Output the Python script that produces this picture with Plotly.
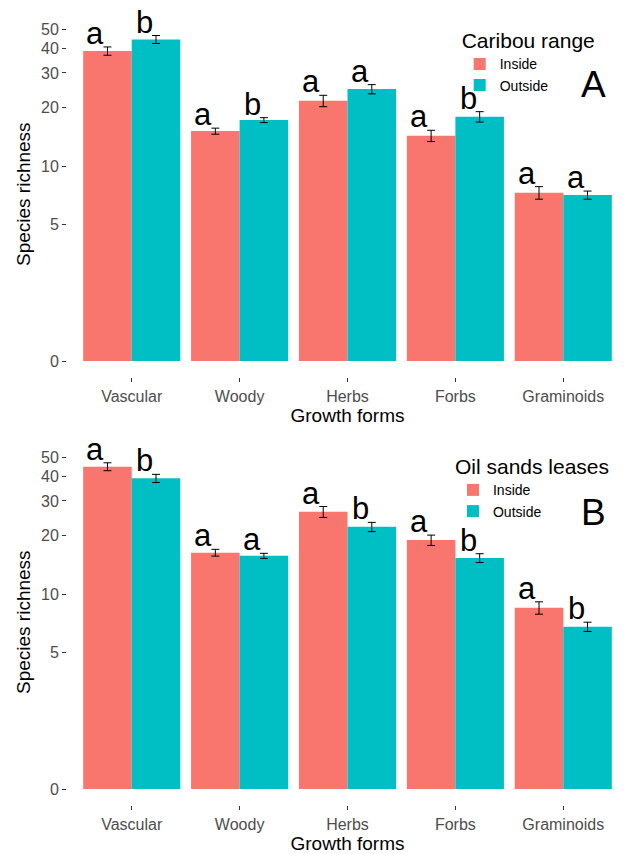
import numpy as np
import plotly.graph_objects as go

# ---------------- data ----------------
categories = ["Vascular", "Woody", "Herbs", "Forbs", "Graminoids"]

a_inside = [38.9, 15.1, 21.6, 14.3, 7.3]
a_outside = [44.6, 17.2, 24.8, 17.9, 7.1]
a_inside_se = [1.9, 0.54, 1.45, 0.95, 0.54]
a_outside_se = [2.1, 0.5, 1.35, 1.1, 0.34]
a_inside_letters = ["a", "a", "a", "a", "a"]
a_outside_letters = ["b", "b", "a", "b", "a"]

b_inside = [45.0, 16.3, 26.4, 18.9, 8.5]
b_outside = [39.2, 15.7, 22.1, 15.3, 6.8]
b_inside_se = [2.1, 0.65, 1.7, 1.15, 0.62]
b_outside_se = [1.9, 0.47, 1.2, 0.8, 0.37]
b_inside_letters = ["a", "a", "a", "a", "a"]
b_outside_letters = ["b", "a", "b", "b", "b"]

# log10 axis: the lowest break (value 1) is labelled "0" in the original figure
y_tick_values = [1, 5, 10, 20, 30, 40, 50]
y_tick_labels = ["0", "5", "10", "20", "30", "40", "50"]
legend_titles = ["Caribou range", "Oil sands leases"]
group_names = ["Inside", "Outside"]
panel_labels = ["A", "B"]


def tr(v):
    return np.log10(np.asarray(v, dtype=float))


RED = "#F8766D"
TEAL = "#00BFC4"
FONT = "Liberation Sans, Arial, sans-serif"
x_pos = np.arange(1, len(categories) + 1)

fig = go.Figure()

panels = [
    (a_inside, a_outside, a_inside_se, a_outside_se, a_inside_letters, a_outside_letters, "x", "y", "legend"),
    (b_inside, b_outside, b_inside_se, b_outside_se, b_inside_letters, b_outside_letters, "x2", "y2", "legend2"),
]

annotations = []
for p, (ins, outs, ins_se, outs_se, ins_l, outs_l, xa, ya, lg) in enumerate(panels):
    for g, (vals, se, letters, color, off) in enumerate([
        (ins, ins_se, ins_l, RED, -0.45),
        (outs, outs_se, outs_l, TEAL, 0.0),
    ]):
        vals = np.asarray(vals)
        se = np.asarray(se)
        t = tr(vals)
        t_hi = tr(vals + se)
        t_lo = tr(vals - se)
        fig.add_trace(go.Bar(
            x=x_pos, y=t, width=0.45, offset=off,
            marker=dict(color=color, line=dict(width=0)),
            name=group_names[g], legend=lg, xaxis=xa, yaxis=ya,
            error_y=dict(type="data", symmetric=False, array=t_hi - t,
                         arrayminus=t - t_lo, color="black", thickness=1, width=4),
            hoverinfo="skip",
        ))
        centers = x_pos + off + 0.225
        for c, th, lt in zip(centers, t_hi, letters):
            annotations.append(dict(
                x=c, y=th, xref=xa, yref=ya, text=lt, showarrow=False,
                xanchor="right", yanchor="bottom", xshift=-1, yshift=-6,
                font=dict(family=FONT, size=31, color="black"),
            ))
    annotations.append(dict(
        x=0.964, y=0.80, xref=f"{xa} domain", yref=f"{ya} domain",
        text=panel_labels[p], showarrow=False, xanchor="right", yanchor="middle",
        font=dict(family=FONT, size=37, color="black"),
    ))

yr = [-0.084, 1.795]
axis_common_y = dict(
    range=yr, tickmode="array", tickvals=tr(y_tick_values), ticktext=y_tick_labels,
    ticks="outside", ticklen=4, tickcolor="#333333", tickwidth=1,
    tickfont=dict(family=FONT, size=16, color="#4D4D4D"),
    showgrid=False, zeroline=False, showline=False, automargin=False,
    title=dict(text="Species richness", font=dict(family=FONT, size=19, color="black"), standoff=5),
)
axis_common_x = dict(
    range=[0.4, 5.6], tickmode="array", tickvals=x_pos, ticktext=categories,
    ticks="outside", ticklen=4, tickcolor="#333333", tickwidth=1,
    tickfont=dict(family=FONT, size=16, color="#4D4D4D"),
    showgrid=False, zeroline=False, showline=False, automargin=False,
    title=dict(text="Growth forms", font=dict(family=FONT, size=19, color="black"), standoff=2),
)

H = 854
fig.update_layout(
    width=628, height=H,
    margin=dict(l=67, r=0, t=0, b=0, autoexpand=False),
    paper_bgcolor="white", plot_bgcolor="white",
    barmode="overlay",
    xaxis=dict(axis_common_x, domain=[0, 1], anchor="y"),
    yaxis=dict(axis_common_y, domain=[1 - 377.4 / H, 1 - 11 / H], anchor="x"),
    xaxis2=dict(axis_common_x, domain=[0, 1], anchor="y2"),
    yaxis2=dict(axis_common_y, domain=[1 - 805.4 / H, 1 - 439 / H], anchor="x2"),
    legend=dict(
        title=dict(text=legend_titles[0], font=dict(family=FONT, size=21, color="black")),
        font=dict(family=FONT, size=14, color="black"),
        x=0.70, y=1 - 21 / H, xanchor="left", yanchor="top",
        bgcolor="rgba(0,0,0,0)", tracegroupgap=0, itemwidth=30,
    ),
    legend2=dict(
        title=dict(text=legend_titles[1], font=dict(family=FONT, size=21, color="black")),
        font=dict(family=FONT, size=14, color="black"),
        x=0.688, y=1 - 447 / H, xanchor="left", yanchor="top",
        bgcolor="rgba(0,0,0,0)", tracegroupgap=0, itemwidth=30,
    ),
    annotations=annotations,
    showlegend=True,
)

fig.write_html(
    "out.html",
    config={"displayModeBar": False},
    post_script="document.body.style.margin='0px';document.body.style.overflow='hidden';",
)
